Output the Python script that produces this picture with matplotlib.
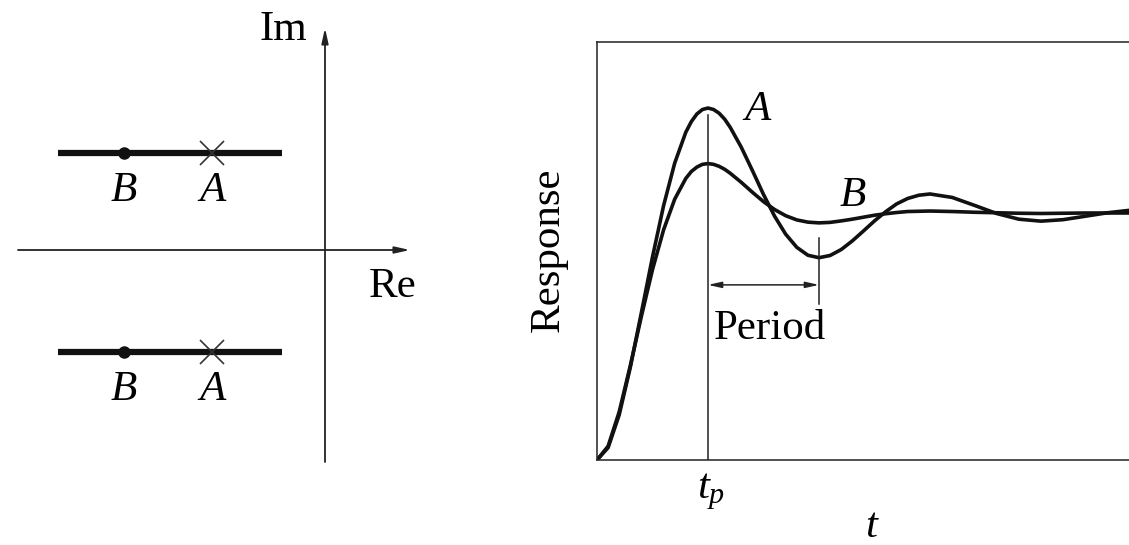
import matplotlib.pyplot as plt

# --- fonts ---
plt.rcParams['font.family'] = ['Liberation Serif', 'DejaVu Serif']
plt.rcParams['mathtext.fontset'] = 'custom'
plt.rcParams['mathtext.rm'] = 'Liberation Serif'
plt.rcParams['mathtext.it'] = 'Liberation Serif:italic'

# --- data ---
# s-plane: poles (real, imag)
pole_re_a = -1.13
pole_re_b = -2.01
pole_im = [0.97, -1.02]
locus_re = [-2.67, -0.43]

# step responses (t in units of t_p, response normalised to steady state)
t_vals = [0.0, 0.1, 0.2, 0.3, 0.4, 0.5, 0.6, 0.7, 0.8, 0.85, 0.9, 0.95, 1.0,
          1.05, 1.1, 1.15, 1.2, 1.3, 1.4, 1.5, 1.6, 1.7, 1.8, 1.9, 2.0,
          2.1, 2.2, 2.3, 2.4, 2.5, 2.6, 2.7, 2.8, 2.9, 3.0,
          3.2, 3.4, 3.6, 3.8, 4.0, 4.2, 4.4, 4.6, 4.8]
resp_a = [0.0, 0.050, 0.183, 0.375, 0.597, 0.822, 1.030, 1.202, 1.327, 1.370, 1.401, 1.419, 1.425,
          1.419, 1.404, 1.380, 1.347, 1.266, 1.172, 1.075, 0.987, 0.914, 0.861, 0.829, 0.819,
          0.828, 0.852, 0.887, 0.927, 0.968, 1.005, 1.037, 1.059, 1.072, 1.077,
          1.063, 1.031, 0.998, 0.975, 0.967, 0.973, 0.987, 1.001, 1.011]
resp_b = [0.0, 0.056, 0.195, 0.382, 0.582, 0.771, 0.932, 1.056, 1.140, 1.168, 1.186, 1.197, 1.200,
          1.197, 1.189, 1.177, 1.161, 1.124, 1.084, 1.046, 1.014, 0.989, 0.972, 0.963, 0.960,
          0.962, 0.968, 0.975, 0.983, 0.991, 0.997, 1.002, 1.006, 1.007, 1.008,
          1.006, 1.003, 1.001, 0.999, 0.998, 0.999, 1.000, 1.000, 1.000]
t_peak = 1.0
t_trough = 2.0

fs = 31

fig = plt.figure(figsize=(11.29, 5.45), dpi=100)

# --- left: pole locations in the s-plane ---
ax1 = fig.add_axes([0, 0, 508 / 1129, 1])
ax1.set_xlim(-3.25, 1.83)
ax1.set_ylim(-2.95, 2.5)
ax1.axis('off')

arrow = dict(arrowstyle='-|>,head_length=0.9,head_width=0.2', color='#222222',
             lw=1.3, shrinkA=0, shrinkB=0)
ax1.annotate('', xy=(0.85, 0), xytext=(-3.07, 0), arrowprops=arrow)
ax1.annotate('', xy=(0, 2.22), xytext=(0, -2.12), arrowprops=arrow)
ax1.text(-0.42, 2.2, 'Im', fontsize=fs, ha='center', va='center')
ax1.text(0.68, -0.37, 'Re', fontsize=fs, ha='center', va='center')

for im in pole_im:
    ax1.plot(locus_re, [im, im], color='#111111', lw=4.5, solid_capstyle='butt')
    ax1.plot([pole_re_b], [im], 'o', color='#111111', ms=8)
    ax1.plot([pole_re_a], [im], 'x', color='#333333', ms=17, mew=1.2)
    ax1.text(pole_re_b, im - 0.38, 'B', fontsize=fs, style='italic',
             ha='center', va='center')
    ax1.text(pole_re_a, im - 0.38, 'A', fontsize=fs, style='italic',
             ha='center', va='center')

# --- right: step responses ---
ax2 = fig.add_axes([597 / 1129, 85 / 545, 532 / 1129, 418 / 545])
ax2.plot(t_vals, resp_a, color='#111111', lw=2.6)
ax2.plot(t_vals, resp_b, color='#111111', lw=2.6)
ax2.set_xlim(0, 532 / 111)
ax2.set_ylim(0, 418 / 247)
ax2.set_xticks([])
ax2.set_yticks([])
ax2.spines['right'].set_visible(False)
for s in ['left', 'top', 'bottom']:
    ax2.spines[s].set_linewidth(1.1)
    ax2.spines[s].set_color('#222222')

# peak time marker and period annotation
ax2.plot([t_peak, t_peak], [0, max(resp_a) - 0.03], color='#222222', lw=1.1)
ax2.plot([t_trough, t_trough], [0.63, 0.90], color='#222222', lw=1.1)
ax2.annotate('', xy=(t_trough, 0.709), xytext=(t_peak, 0.709),
             arrowprops=dict(arrowstyle='<|-|>,head_length=0.8,head_width=0.18',
                             color='#222222', lw=1.1, shrinkA=0, shrinkB=0))
ax2.text(1.56, 0.53, 'Period', fontsize=fs, ha='center', va='center')
ax2.text(1.45, 1.42, 'A', fontsize=fs, style='italic', ha='center', va='center')
ax2.text(2.30, 1.07, 'B', fontsize=fs, style='italic', ha='center', va='center')

ax2.text(1.03, -0.13, r'$t_p$', fontsize=fs, ha='center', va='center', clip_on=False)
ax2.text(2.48, -0.27, r'$t$', fontsize=fs, ha='center', va='center', clip_on=False)
ax2.text(-0.44, 0.85, 'Response', fontsize=fs, rotation=90,
         ha='center', va='center', clip_on=False)

plt.savefig('out.png', dpi=100)
